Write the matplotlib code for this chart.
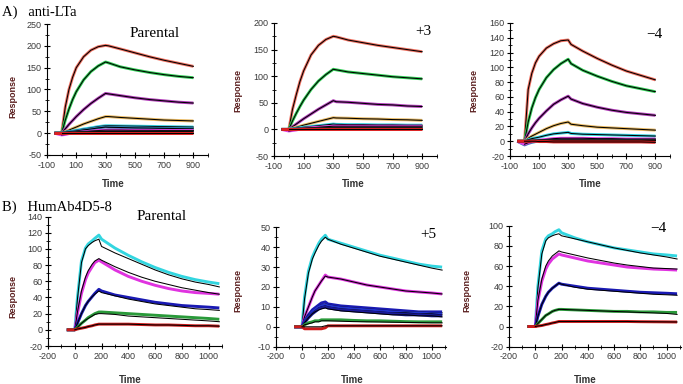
import numpy as np
import matplotlib.pyplot as plt
from matplotlib.ticker import MultipleLocator

plt.rcParams['axes.unicode_minus'] = False
plt.rcParams['font.family'] = 'Liberation Sans'

# ---- A) anti-LTa : time grid (s) and responses, highest to lowest conc.
t_lta = [-50, 0, 25, 50, 75, 100, 150, 200, 250, 300, 320, 400, 500, 600, 700, 800, 900]

lta_parental = [
    [0, 0, 60, 100, 128, 150, 175, 190, 198, 201, 200, 193, 184, 175, 167, 160, 153],
    [0, 0, 30, 55, 77, 95, 122, 141, 154, 163, 161, 152, 145, 139, 134, 130, 127],
    [0, 0, 10, 20, 29, 38, 54, 68, 80, 91, 90, 86, 81, 77, 74, 71, 69],
    [0, 0, 3.5, 7, 10.5, 14, 21, 27, 33, 38, 38, 36, 34, 32, 30, 29, 28],
    [0, 0, 2, 3.5, 5, 6.5, 9.5, 12, 15, 17, 17, 16.5, 16, 15.5, 15, 14.5, 14],
    [0, 0, 1.5, 3, 4, 5, 7.5, 9.5, 12, 14, 13.5, 13, 12, 11.5, 11, 10.5, 10],
    [0, -4, -3, -1, 0.5, 1.5, 3, 4.5, 6, 7, 7, 7, 6.5, 6.5, 6, 6, 6],
    [0, 0, 0.5, 1, 1.2, 1.5, 2, 2.5, 3, 3, 3, 3, 3, 3, 3, 3, 3],
    [0, 0, 0, 0, 0, 0, 0, 0, 0, 0, 0, 0, 0, 0, 0, 0, 0],
]
lta_plus3 = [
    [0, 0, 38, 65, 90, 110, 140, 158, 169, 175, 174, 168, 163, 158, 154, 150, 146],
    [0, 0, 16, 30, 43, 55, 75, 91, 103, 113, 112, 108, 105, 102, 99, 97, 95],
    [0, 0, 5, 10, 15, 20, 29, 38, 46, 54, 52, 51, 49, 47, 46, 44, 43],
    [0, 0, 2, 4, 6, 8, 11.5, 15, 18.5, 22, 21.5, 21, 20, 19.5, 18.5, 18, 17],
    [0, 0, 1, 2, 3, 4, 5.5, 7, 8.5, 10, 9.5, 9, 9, 8.5, 8.5, 8, 8],
    [0, 0, 0.5, 1, 1.5, 2, 2.5, 3, 3.5, 4, 4, 4, 4, 4, 4, 4, 4],
    [0, -3, -2, -1, 0.5, 1.5, 3, 4, 5, 6, 6, 6, 6, 6, 6, 6, 6],
    [0, 0, 0.3, 0.6, 0.9, 1.2, 1.5, 1.8, 2, 2, 2, 2, 2, 2, 2, 2, 2],
    [0, 0, 0, 0, 0, 0, 0, 0, 0, 0, 0, 0, 0, 0, 0, 0, 0],
]
lta_minus4 = [
    [0, 0, 70, 92, 106, 115, 126, 132, 136, 137, 131, 122, 112, 103, 95, 89, 83],
    [0, 0, 26, 45, 59, 70, 86, 97, 105, 111, 105, 96, 88, 81, 75, 71, 67],
    [0, 0, 10, 18, 25, 31, 41, 50, 56, 61, 57, 51, 46, 42, 39, 37, 35],
    [0, 0, 4, 7, 9.5, 12, 17, 21, 24, 26, 23, 21, 19, 18, 17, 16, 15],
    [0, 0, 2, 3.5, 4.5, 5.5, 8, 10, 11, 12, 10.5, 9.5, 9, 8.5, 8, 7.5, 7],
    [0, -5, -3, -1.5, -0.5, 0, 0.5, 1, 1.5, 2, 2, 2, 2, 2, 2, 2, 2],
    [0, -4, -2, -0.5, 0.5, 1.5, 2.5, 3.5, 4, 4, 4, 4, 3.5, 3.5, 3, 3, 3],
    [0, 0, 0.3, 0.5, 0.7, 0.8, 1, 1, 1, 1, 1, 1, 1, 1, 1, 1, 1],
    [0, 0, 0, 0, 0, -0.5, -0.5, -1, -1, -1, -1, -1, -1, -1, -1, -1, -1.5],
]

# ---- B) HumAb4D5-8
t_her = [-60, 0, 20, 50, 80, 100, 130, 150, 180, 200, 300, 400, 500, 600, 700, 800, 900, 1000, 1080]

her_parental = [
    [0, 0, 40, 85, 101, 106, 110, 113, 117, 112, 101, 92, 84, 77, 71, 66, 62, 59, 57],
    [0, 0, 20, 45, 62, 70, 78, 83, 86, 84, 74, 66, 60, 55, 51, 48, 46, 45, 44],
    [0, 0, 8, 20, 30, 35, 41, 45, 50, 48, 43, 40, 37, 34, 32, 30, 29, 28, 27],
    [0, 0, 3, 8, 12, 15, 18, 20, 22, 22, 21, 20, 19, 18, 17, 16, 15, 14, 13],
    [0, 0, 1, 2, 3, 4, 5, 6, 7, 7, 7, 7, 6.5, 6, 6, 5.5, 5, 5, 4.5],
]
her_parental_fit = [
    [0, 0, 38, 83, 100, 104, 108, 110, 112, 103, 95, 88, 81, 74, 68, 63, 59, 56, 53],
    [0, 0, 22, 48, 65, 73, 81, 85, 88, 86, 78, 71, 65, 60, 56, 52, 49, 46, 44],
    [0, 0, 8, 20, 30, 35, 41, 44, 48, 46, 42, 38, 35, 32, 30, 28, 26, 25, 24],
    [0, 0, 3, 8, 12, 14, 17, 19, 20, 20, 19, 17, 16, 15, 14, 13, 12, 11, 10],
    [0, 0, 1, 2, 3, 4, 5, 6, 7, 7, 7, 7, 6.5, 6, 6, 5.5, 5, 5, 4.5],
]
her_plus5 = [
    [0, 0, 15, 28, 35, 38, 42, 44, 46, 44, 42, 40, 38, 36, 34.5, 33, 31.5, 30.5, 30],
    [0, 0, 5, 10, 15, 18, 21, 23, 26, 25, 24, 22.5, 21, 20, 19, 18, 17.5, 17, 16.5],
    [0, 0, 3, 6, 8.5, 9.5, 11, 12, 12.5, 11.5, 10.5, 10, 9.5, 9, 8.5, 8, 7.5, 7.5, 7.5],
    [0, 0, 2.5, 5, 7.5, 8.5, 10, 10.5, 11, 10.5, 9.5, 9, 8.5, 8, 7.5, 7, 7, 6.5, 6.5],
    [0, 0, 2, 4.5, 6.5, 7.5, 9, 9.5, 10, 9.5, 8.5, 8, 7.5, 7, 6.5, 6, 6, 5.5, 5.5],
    [0, 0, 1, 2, 2.5, 3, 3, 3.5, 3.5, 3.5, 3.5, 3.2, 3, 3, 2.8, 2.6, 2.5, 2.5, 2.5],
    [0, 0, -1, -1, -1, -1, -1, -1, -0.5, 0.5, 0.5, 0.5, 0.5, 0.5, 0.5, 0.5, 0.5, 0.5, 0.5],
]
her_plus5_fit = [
    [0, 0, 14, 27, 34, 37, 41, 43, 45, 44, 41.5, 39.5, 37.5, 35.5, 34, 32.5, 31, 29.5, 28.5],
    [0, 0, 5, 10, 15, 18, 21, 23, 25.5, 25, 24, 22.5, 21, 20, 19, 18, 17.5, 17, 16.5],
    [0, 0, 3, 6, 8, 9, 10.5, 11, 11.5, 11, 10, 9.5, 9, 8.5, 8, 7.5, 7.5, 7, 7],
    [0, 0, 2.5, 5, 7, 8, 9.5, 10, 10.5, 10, 9, 8.5, 8, 7.5, 7, 7, 6.5, 6.5, 6],
    [0, 0, 2, 4.5, 6.5, 7.5, 8.5, 9, 9.5, 9, 8, 7.5, 7, 6.5, 6, 6, 5.5, 5.5, 5],
    [0, 0, 1, 1.5, 2, 2.5, 2.5, 3, 3, 3, 2.8, 2.6, 2.5, 2.4, 2.3, 2.2, 2.1, 2, 2],
    [0, 0, 0, 0, 0, 0, 0, 0, 0.5, 0.5, 0.5, 0.5, 0.5, 0.5, 0.5, 0.5, 0.5, 0.5, 0.5],
]
her_minus4 = [
    [0, 0, 40, 75, 87, 90, 92, 94, 96, 93, 88, 84, 81, 78, 76, 74, 72, 71, 70],
    [0, 0, 25, 45, 57, 62, 67, 69, 72, 71, 68, 65, 63, 61, 59, 58, 57, 56.5, 56],
    [0, 0, 10, 22, 30, 34, 38, 40, 43, 42, 40, 38, 37, 36, 35, 34, 33.5, 33, 32.5],
    [0, 0, 3, 7, 11, 12.5, 15, 16, 17, 17, 16.5, 16, 15.5, 15, 15, 14.5, 14.5, 14, 14],
    [0, 0, 0.5, 1, 2, 2.5, 3.5, 4, 5, 5, 5, 5, 5, 5, 5, 4.8, 4.7, 4.6, 4.5],
]
her_minus4_fit = [
    [0, 0, 38, 72, 85, 88, 90, 91, 92, 90, 87, 84, 81, 78, 75.5, 73, 71, 69, 67],
    [0, 0, 26, 47, 60, 65, 70, 72, 75, 74, 71, 68, 65.5, 63, 61, 59.5, 58, 57.5, 57],
    [0, 0, 10, 22, 30, 34, 38, 40, 43, 42, 39, 37, 36, 35, 34, 33, 32, 31.5, 31],
    [0, 0, 3, 7, 11, 12.5, 15, 16, 17, 17, 16.5, 16, 15.5, 15, 14.5, 14, 13.5, 13, 12],
    [0, 0, 0.5, 1, 2, 2.5, 3.5, 4, 5, 5, 5, 5, 5, 5, 5, 4.8, 4.7, 4.6, 4.5],
]

lta_colors = ['#f07060', '#30cc55', '#b03ab8', '#e8b860', '#33d0e0',
              '#2a80b0', '#e040e0', '#222222', '#e02020']
her_colors = ['#33d6e0', '#e033e0', '#1a1ab3', '#2a9a3a', '#cc1a1a']
her5_colors = ['#33d6e0', '#e033e0', '#1a1ab3', '#2233cc', '#1a1a99', '#2a9a3a', '#cc1a1a']

W, H = 683, 384
fig = plt.figure(figsize=(W / 100, H / 100), dpi=100)


def box(l, r, b, t):
    return [l / W, 1 - b / H, (r - l) / W, (b - t) / H]


def px(x, y):
    return x / W, 1 - y / H


def panel(rect, t, rows, fits, colors, xlim, ylim, xticks, ymaj):
    ax = fig.add_axes(rect)
    t = np.array(t)
    for row, fit, c in zip(rows, fits, colors):
        ax.plot(t, row, color=c, lw=2.1, solid_capstyle='butt')
        ax.plot(t[1:], fit[1:], color='black', lw=0.75)
    ax.set_xlim(*xlim)
    ax.set_ylim(*ylim)
    ax.set_xticks(xticks)
    ax.xaxis.set_minor_locator(MultipleLocator(100))
    ax.yaxis.set_major_locator(MultipleLocator(ymaj))
    ax.yaxis.set_minor_locator(MultipleLocator(ymaj / 2))
    for s in ('top', 'right'):
        ax.spines[s].set_visible(False)
    for s in ('left', 'bottom'):
        ax.spines[s].set_linewidth(0.8)
    ax.tick_params(which='major', direction='inout', length=5, width=0.8,
                   labelsize=6.5, labelcolor='#3a3a3a', pad=1.5)
    ax.tick_params(which='minor', direction='inout', length=3, width=0.6)
    ax.patch.set_alpha(0)
    return ax


xt_lta = list(range(-100, 901, 200))
xt_her = list(range(-200, 1001, 200))

panel(box(47, 208, 155, 24), t_lta, lta_parental, lta_parental, lta_colors,
      (-100, 1000), (-50, 250), xt_lta, 50)
panel(box(274, 437, 156, 23), t_lta, lta_plus3, lta_plus3, lta_colors,
      (-100, 1000), (-50, 200), xt_lta, 50)
panel(box(510, 670, 156, 23), t_lta, lta_minus4, lta_minus4, lta_colors,
      (-100, 1000), (-20, 160), xt_lta, 20)
panel(box(48, 222, 346, 216.5), t_her, her_parental, her_parental_fit, her_colors,
      (-200, 1100), (-20, 140), xt_her, 20)
panel(box(276, 446, 346.7, 227.3), t_her, her_plus5, her_plus5_fit, her5_colors,
      (-200, 1110), (-10, 50), xt_her, 10)
panel(box(509, 681, 346.7, 225.7), t_her, her_minus4, her_minus4_fit, her_colors,
      (-200, 1110), (-20, 100), xt_her, 20)

serif = 'Liberation Serif'
fig.text(*px(2, 16), 'A)   anti-LTa', family=serif, fontsize=10.5, va='baseline')
fig.text(*px(2, 211), 'B)   HumAb4D5-8', family=serif, fontsize=10.5, va='baseline')

notes = [(130, 37, 'Parental'), (415, 35, '+3'), (646, 38, '\u22124'),
         (137, 220, 'Parental'), (420, 238, '+5'), (650, 232, '\u22124')]
for x, y, s in notes:
    fig.text(*px(x, y), s, family=serif, fontsize=11, va='baseline')

for x, y in [(13, 97), (238, 90), (474, 90), (13, 296), (238, 290), (467, 290)]:
    fig.text(*px(x, y), 'Response', rotation=90, ha='center', va='center',
             fontsize=6.5, fontweight='bold', color='#5a1e1e')
for x, y in [(113, 184), (353, 184), (590, 184), (130, 380), (352, 380), (585, 380)]:
    fig.text(*px(x, y), 'Time', ha='center', va='center',
             fontsize=7, fontweight='bold', color='#333333')

fig.savefig('out.png', dpi=100)
